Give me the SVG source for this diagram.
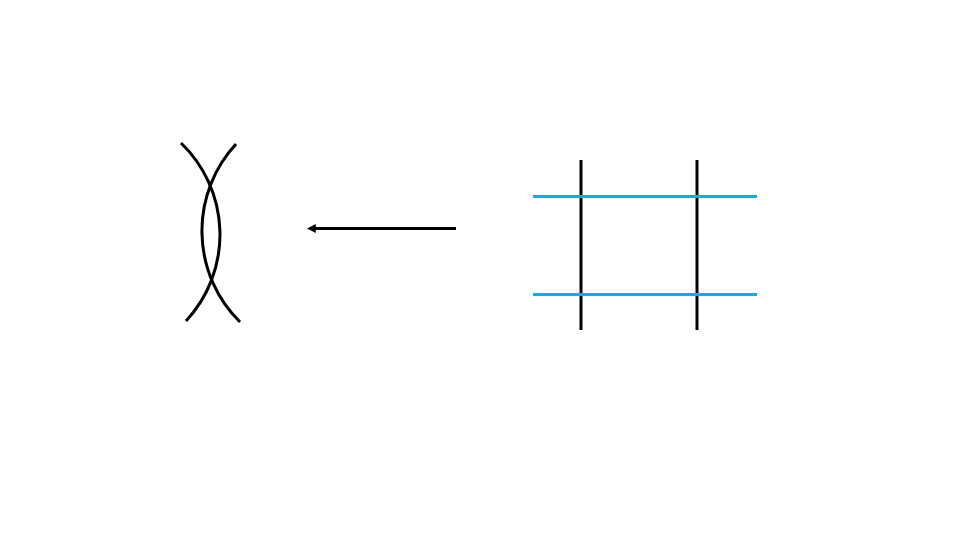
<svg xmlns="http://www.w3.org/2000/svg" width="960" height="540" viewBox="0 0 960 540">
<style>
.k{fill:none;stroke:#000;stroke-width:3}
.b{fill:none;stroke:#00B0F0;stroke-width:3}
</style>
<defs>
<marker id="ah" viewBox="0 0 10 10" refX="2" refY="5" markerWidth="3" markerHeight="3" orient="auto-start-reverse">
<path d="M0,0 L10,5 L0,10 z" fill="#000"/>
</marker>
</defs>
<rect width="960" height="540" fill="#fff"/>
<g id="lens">
<path class="k" d="M181,143 A127,127 0 0 1 186,321"/>
<path class="k" d="M236,144 A128,128 0 0 0 240,322"/>
</g>
<g id="connectors">
<line class="k" x1="456" y1="228.5" x2="314" y2="228.5" marker-end="url(#ah)"/>
</g>
<g id="grid">
<line class="k" x1="581" y1="160" x2="581" y2="330"/>
<line class="k" x1="697" y1="160" x2="697" y2="330"/>
<line class="b" x1="533" y1="196.5" x2="757" y2="196.5"/>
<line class="b" x1="533" y1="294.5" x2="757" y2="294.5"/>
</g>
</svg>
